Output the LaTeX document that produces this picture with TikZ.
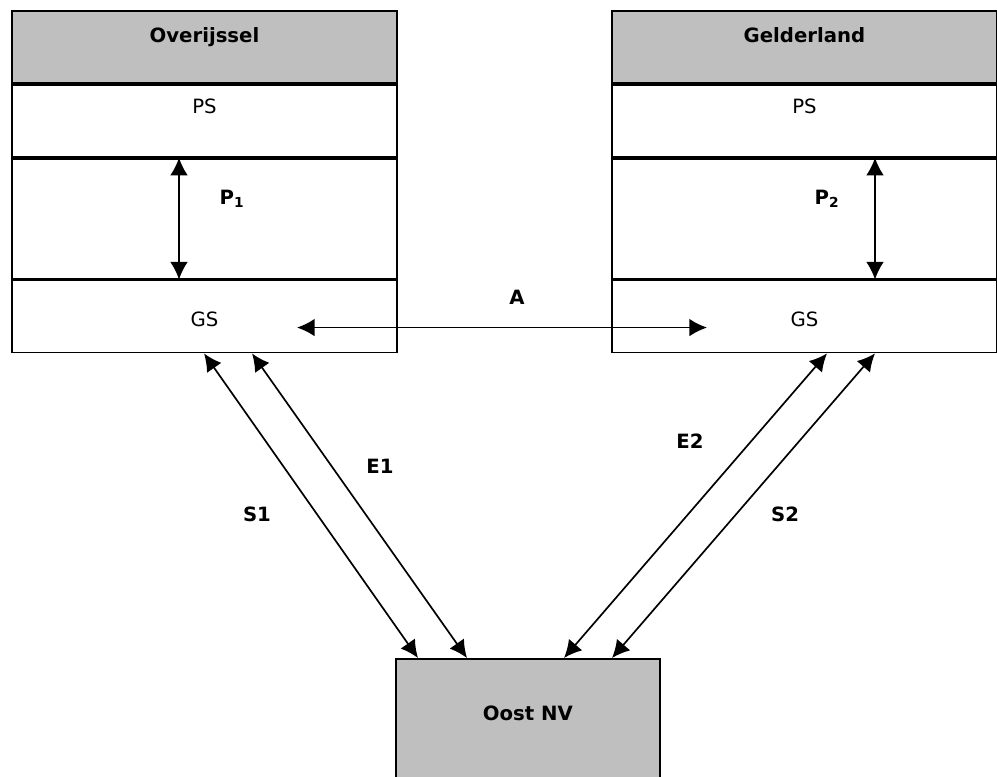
\documentclass[tikz,border=0pt]{standalone}
\usepackage{fontspec}
\setmainfont{DejaVu Sans}
\usetikzlibrary{arrows.meta,positioning,calc}
\tikzset{
    block/.style = {draw, rectangle, line width=1.3pt,
        minimum width=9.625cm, inner sep=0pt, anchor=north west},
    head/.style = {block, fill=black!25, minimum height=1.8cm},
    row/.style = {block, minimum height=1.8cm},
    prow/.style = {block, minimum height=3cm},
    txt/.style = {inner sep=0pt, anchor=base, font=\fontsize{14}{16}\selectfont},
    btxt/.style = {txt, font=\fontsize{14}{16}\selectfont\bfseries},
    arrow/.style = {draw, line width=1.2pt,
        {Latex[length=12.5pt,width=12.5pt]}-{Latex[length=12.5pt,width=12.5pt]}}
}

\begin{document}
\begin{tikzpicture}[x=0.025cm,y=-0.025cm]
  \useasboundingbox (0,0) rectangle (997,776);
  % provincie blokken
  \foreach \n/\x/\t/\px/\lx in {1/11/Overijssel/168/221, 2/611/Gelderland/264/216}{
    \node[head] (h\n) at (\x,10) {};
    \node[row] (ps\n) at (h\n.south west) {};
    \node[prow] (p\n) at (ps\n.south west) {};
    \node[row] (gs\n) at (p\n.south west) {};
    \node[btxt] (ht\n) at ($(h\n.north)+(0,32)$) {\t};
    \node[txt] (pst\n) at ($(ps\n.north)+(0,30)$) {PS};
    \node[txt] (gst\n) at ($(gs\n.north)+(0,47)$) {GS};
    \node[btxt] (pt\n) at ($(p\n.north west)+(\lx,47)$) {P\textsubscript{\n}};
    \coordinate (pa\n) at ($(p\n.north west)+(\px,0)$);
    \coordinate (pb\n) at ($(p\n.south west)+(\px,0)$);
    \draw[arrow] (pa\n) -- (pb\n);
  };
  % Oost NV
  \node[block, fill=black!25, minimum width=6.6cm, minimum height=3.3cm] (oost) at (395,658) {};
  \node[btxt] (oostt) at ($(oost.north)+(0,62)$) {Oost NV};
  % A
  \coordinate (a1) at ($(gs1.north west)+(286,48)$);
  \coordinate (a2) at ($(gs2.north west)+(96,48)$);
  \draw[arrow] (a1) -- (a2);
  \node[btxt] (at) at (517,304) {A};
  % schuine pijlen
  \coordinate (s1a) at ($(gs1.south west)+(193,0)$);
  \coordinate (e1a) at ($(gs1.south west)+(241,0)$);
  \coordinate (e2a) at ($(gs2.south west)+(216,0)$);
  \coordinate (s2a) at ($(gs2.south west)+(264,0)$);
  \coordinate (s1b) at ($(oost.north west)+(23,0)$);
  \coordinate (e1b) at ($(oost.north west)+(72,0)$);
  \coordinate (e2b) at ($(oost.north west)+(169,0)$);
  \coordinate (s2b) at ($(oost.north west)+(217,0)$);
  \draw[arrow] (s1a) -- (s1b);
  \draw[arrow] (e1a) -- (e1b);
  \draw[arrow] (e2a) -- (e2b);
  \draw[arrow] (s2a) -- (s2b);
  \node[btxt] (s1t) at (257,521) {S1};
  \node[btxt] (e1t) at (380,473) {E1};
  \node[btxt] (e2t) at (690,448) {E2};
  \node[btxt] (s2t) at (785,521) {S2};
 \end{tikzpicture}
\end{document}
